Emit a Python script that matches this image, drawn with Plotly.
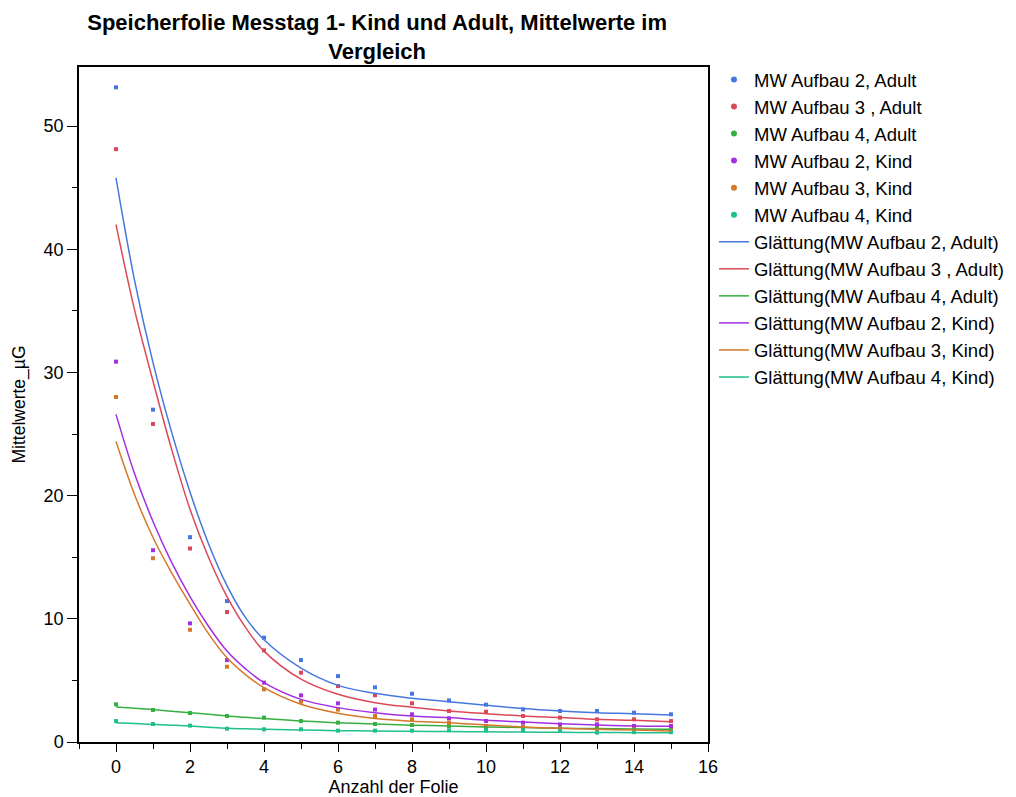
import plotly.graph_objects as go

folie = list(range(16))

mw_a2 = [53.15, 26.98, 16.63, 11.44, 8.47, 6.65, 5.35, 4.44, 3.92, 3.38, 3.03, 2.65, 2.52, 2.52, 2.38, 2.25]
mw_a3 = [48.13, 25.82, 15.71, 10.55, 7.44, 5.63, 4.54, 3.79, 3.14, 2.52, 2.46, 2.11, 1.98, 1.84, 1.84, 1.70]
mw_a4 = [3.06, 2.60, 2.35, 2.11, 1.98, 1.70, 1.57, 1.46, 1.38, 1.30, 1.22, 1.17, 1.11, 1.17, 1.17, 1.10]
mw_k2 = [30.88, 15.57, 9.63, 6.65, 4.82, 3.79, 3.14, 2.63, 2.25, 1.92, 1.70, 1.57, 1.43, 1.43, 1.30, 1.30]
mw_k3 = [28.01, 14.92, 9.11, 6.11, 4.27, 3.27, 2.63, 2.11, 1.84, 1.57, 1.30, 1.22, 1.11, 1.03, 1.03, 0.95]
mw_k4 = [1.70, 1.46, 1.33, 1.08, 1.03, 1.03, 0.92, 0.92, 0.92, 0.95, 0.95, 0.95, 0.95, 0.76, 0.80, 0.80]

fit_x = [0, 0.5, 1, 1.5, 2, 2.5, 3, 3.5, 4, 5, 6, 7, 8, 9, 10, 11, 12, 13, 14, 15]
fit_a2 = [45.8, 37.5, 30.8, 25.2, 20.3, 16.1, 12.7, 10.1, 8.3, 6.0, 4.6, 3.95, 3.55, 3.27, 2.98, 2.71, 2.52, 2.38, 2.30, 2.19]
fit_a3 = [42.0, 35.1, 29.3, 23.8, 18.9, 15.0, 11.8, 9.3, 7.38, 5.1, 3.87, 3.19, 2.82, 2.52, 2.30, 2.11, 1.98, 1.84, 1.76, 1.65]
fit_a4 = [2.85, 2.74, 2.63, 2.50, 2.38, 2.25, 2.11, 2.00, 1.90, 1.70, 1.57, 1.46, 1.37, 1.30, 1.22, 1.17, 1.12, 1.09, 1.05, 1.03]
fit_k2 = [26.6, 21.8, 17.9, 14.6, 11.8, 9.4, 7.38, 5.94, 4.82, 3.46, 2.79, 2.38, 2.11, 1.98, 1.76, 1.62, 1.49, 1.38, 1.30, 1.27]
fit_k3 = [24.4, 20.1, 16.6, 13.75, 11.2, 8.8, 6.84, 5.47, 4.41, 3.06, 2.33, 1.90, 1.68, 1.57, 1.38, 1.22, 1.11, 1.03, 0.97, 0.89]
fit_k4 = [1.57, 1.50, 1.43, 1.37, 1.30, 1.20, 1.11, 1.07, 1.03, 0.97, 0.92, 0.89, 0.87, 0.85, 0.83, 0.81, 0.79, 0.77, 0.76, 0.75]

names = ["MW Aufbau 2, Adult", "MW Aufbau 3 , Adult", "MW Aufbau 4, Adult",
         "MW Aufbau 2, Kind", "MW Aufbau 3, Kind", "MW Aufbau 4, Kind"]
colors = ["#4677e0", "#dc4858", "#35b040", "#a22fe2", "#d5782a", "#1fbf8e"]
points = [mw_a2, mw_a3, mw_a4, mw_k2, mw_k3, mw_k4]
fits = [fit_a2, fit_a3, fit_a4, fit_k2, fit_k3, fit_k4]

fig = go.Figure()

# data points (square markers in plot)
for n, c, p in zip(names, colors, points):
    fig.add_trace(go.Scatter(x=folie, y=p, mode="markers", name=n, showlegend=False,
                             marker=dict(symbol="square", size=4, color=c)))
# legend entries (dots)
for n, c in zip(names, colors):
    fig.add_trace(go.Scatter(x=[None], y=[None], mode="markers", name=n,
                             marker=dict(symbol="circle", size=6, color=c)))
# smoothing curves
for n, c, f in zip(names, colors, fits):
    fig.add_trace(go.Scatter(x=fit_x, y=f, mode="lines", name="Glättung(" + n + ")",
                             line=dict(color=c, width=1.5, shape="spline", smoothing=1.0)))

font_family = "Liberation Sans, Arial, sans-serif"

fig.update_layout(
    width=1008, height=789,
    paper_bgcolor="white", plot_bgcolor="white",
    margin=dict(l=71, r=308, t=59, b=55, autoexpand=False),
    title=dict(text="<b>Speicherfolie Messtag 1- Kind und Adult, Mittelwerte im<br>Vergleich</b>",
               xref="paper", x=0.474, xanchor="center",
               yref="container", y=0.972, yanchor="top",
               font=dict(family=font_family, size=22, color="black")),
    font=dict(family=font_family, color="black"),
    legend=dict(x=1.0095, xanchor="left", y=1.009, yanchor="top",
                font=dict(family=font_family, size=18.5, color="black"),
                bgcolor="rgba(0,0,0,0)", itemwidth=30, tracegroupgap=0),
    xaxis=dict(range=[-1, 16], tickmode="array", tickvals=[0, 2, 4, 6, 8, 10, 12, 14, 16],
               automargin=False,
               showline=True, linecolor="black", linewidth=1.5, mirror=True,
               ticks="outside", ticklen=8, tickwidth=1.2, tickcolor="black",
               minor=dict(tickvals=[-1, 1, 3, 5, 7, 9, 11, 13, 15], ticks="outside", ticklen=5, tickcolor="black"),
               showgrid=False, zeroline=False,
               tickfont=dict(size=18),
               title=dict(text="Anzahl der Folie", font=dict(size=18), standoff=6)),
    yaxis=dict(range=[0, 54.8], tickmode="array", tickvals=[0, 10, 20, 30, 40, 50],
               automargin=False,
               showline=True, linecolor="black", linewidth=1.5, mirror=True,
               ticks="outside", ticklen=10, tickwidth=1.2, tickcolor="black",
               minor=dict(tickvals=[5, 15, 25, 35, 45], ticks="outside", ticklen=5, tickcolor="black"),
               showgrid=False, zeroline=False,
               tickfont=dict(size=18),
               title=dict(text="Mittelwerte_µG", font=dict(size=17.5), standoff=13)),
)

fig.write_html("out.html")
